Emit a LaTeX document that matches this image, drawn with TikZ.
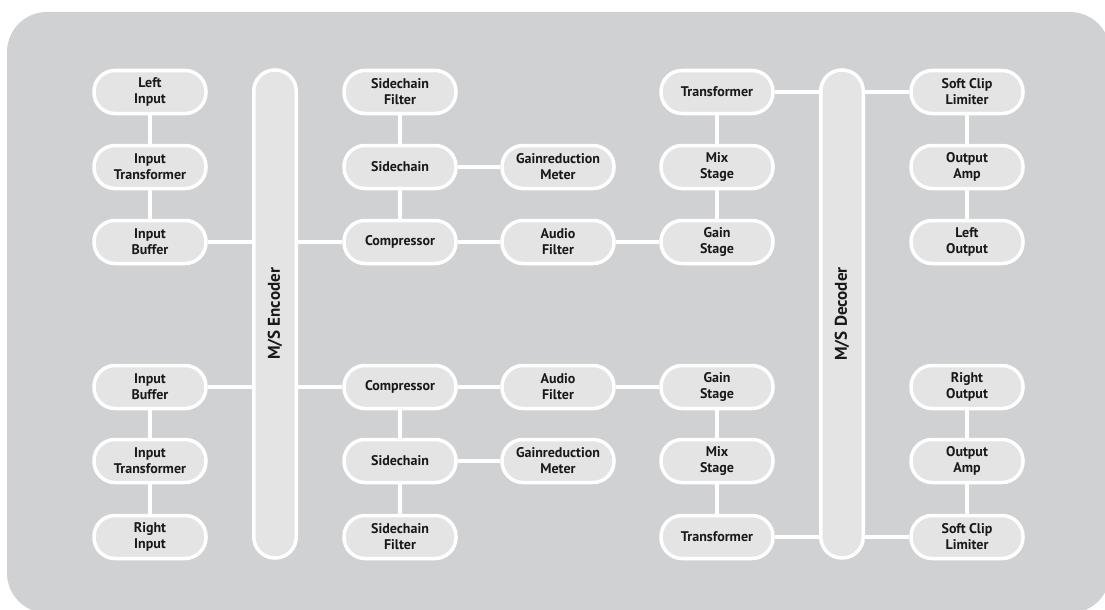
\documentclass[tikz,border=0pt]{standalone}
\usepackage{fontspec}
\usepackage{graphicx}
\setmainfont{PT Sans}
\definecolor{panel}{RGB}{208,209,211}
\definecolor{boxfill}{RGB}{228,228,228}
\tikzset{
	block/.style={draw=white, line width=3.5pt, fill=boxfill,
		rounded corners=21pt, minimum width=112pt, minimum height=43pt,
		inner sep=0pt, align=center, text=black!90,
		font=\bfseries\fontsize{14}{16}\selectfont},
	bar/.style={block, minimum width=42.5pt, minimum height=488pt,
		font=\bfseries\fontsize{17}{19}\selectfont},
	link/.style={draw=white, line width=3.5pt},
}
\begin{document}
\begin{tikzpicture}[x=1pt, y=-1pt]
	\useasboundingbox (0,0) rectangle (1105,610);
	% Hintergrund
	\fill[panel, rounded corners=40pt] (7,12) rectangle (1110,613);
	% M/S Balken
	\node[bar] (enc) at (275,314) {\rotatebox{90}{M/S Encoder}};
	\node[bar] (dec) at (842,314) {\rotatebox{90}{M/S Decoder}};
	% linker Kanal
	\node[block] (linput) at (150,92) {Left\\Input};
	\node[block] (ltrans) at (150,167) {Input\\Transformer};
	\node[block] (lbuf) at (150,242) {Input\\Buffer};
	\node[block] (lscfilt) at (400,92) {Sidechain\\Filter};
	\node[block] (lsc) at (400,167) {Sidechain};
	\node[block] (lcomp) at (400,242) {Compressor};
	\node[block] (lmeter) at (558,167) {Gainreduction\\Meter};
	\node[block] (lafilt) at (558,242) {Audio\\Filter};
	\node[block] (lotrans) at (717,92) {Transformer};
	\node[block] (lmix) at (717,167) {Mix\\Stage};
	\node[block] (lgain) at (717,242) {Gain\\Stage};
	\node[block] (llim) at (967,92) {Soft Clip\\Limiter};
	\node[block] (lamp) at (967,167) {Output\\Amp};
	\node[block] (loutput) at (967,242) {Left\\Output};
	% rechter Kanal
	\node[block] (rbuf) at (150,387) {Input\\Buffer};
	\node[block] (rtrans) at (150,461) {Input\\Transformer};
	\node[block] (rinput) at (150,537) {Right\\Input};
	\node[block] (rcomp) at (400,387) {Compressor};
	\node[block] (rsc) at (400,461) {Sidechain};
	\node[block] (rscfilt) at (400,537) {Sidechain\\Filter};
	\node[block] (rafilt) at (558,387) {Audio\\Filter};
	\node[block] (rmeter) at (558,461) {Gainreduction\\Meter};
	\node[block] (rgain) at (717,387) {Gain\\Stage};
	\node[block] (rmix) at (717,461) {Mix\\Stage};
	\node[block] (rotrans) at (717,537) {Transformer};
	\node[block] (routput) at (967,387) {Right\\Output};
	\node[block] (ramp) at (967,461) {Output\\Amp};
	\node[block] (rlim) at (967,537) {Soft Clip\\Limiter};
	% Verbindungen links
	\draw[link] (linput) -- (ltrans);
	\draw[link] (ltrans) -- (lbuf);
	\draw[link] (lbuf) -- (lbuf -| enc.west);
	\draw[link] (enc.east |- lcomp) -- (lcomp);
	\draw[link] (lscfilt) -- (lsc);
	\draw[link] (lsc) -- (lcomp);
	\draw[link] (lsc) -- (lmeter);
	\draw[link] (lcomp) -- (lafilt);
	\draw[link] (lafilt) -- (lgain);
	\draw[link] (lgain) -- (lmix);
	\draw[link] (lmix) -- (lotrans);
	\draw[link] (lotrans) -- (lotrans -| dec.west);
	\draw[link] (dec.east |- llim) -- (llim);
	\draw[link] (llim) -- (lamp);
	\draw[link] (lamp) -- (loutput);
	% Verbindungen rechts
	\draw[link] (rinput) -- (rtrans);
	\draw[link] (rtrans) -- (rbuf);
	\draw[link] (rbuf) -- (rbuf -| enc.west);
	\draw[link] (enc.east |- rcomp) -- (rcomp);
	\draw[link] (rscfilt) -- (rsc);
	\draw[link] (rsc) -- (rcomp);
	\draw[link] (rsc) -- (rmeter);
	\draw[link] (rcomp) -- (rafilt);
	\draw[link] (rafilt) -- (rgain);
	\draw[link] (rgain) -- (rmix);
	\draw[link] (rmix) -- (rotrans);
	\draw[link] (rotrans) -- (rotrans -| dec.west);
	\draw[link] (dec.east |- rlim) -- (rlim);
	\draw[link] (rlim) -- (ramp);
	\draw[link] (ramp) -- (routput);
\end{tikzpicture}
\end{document}
